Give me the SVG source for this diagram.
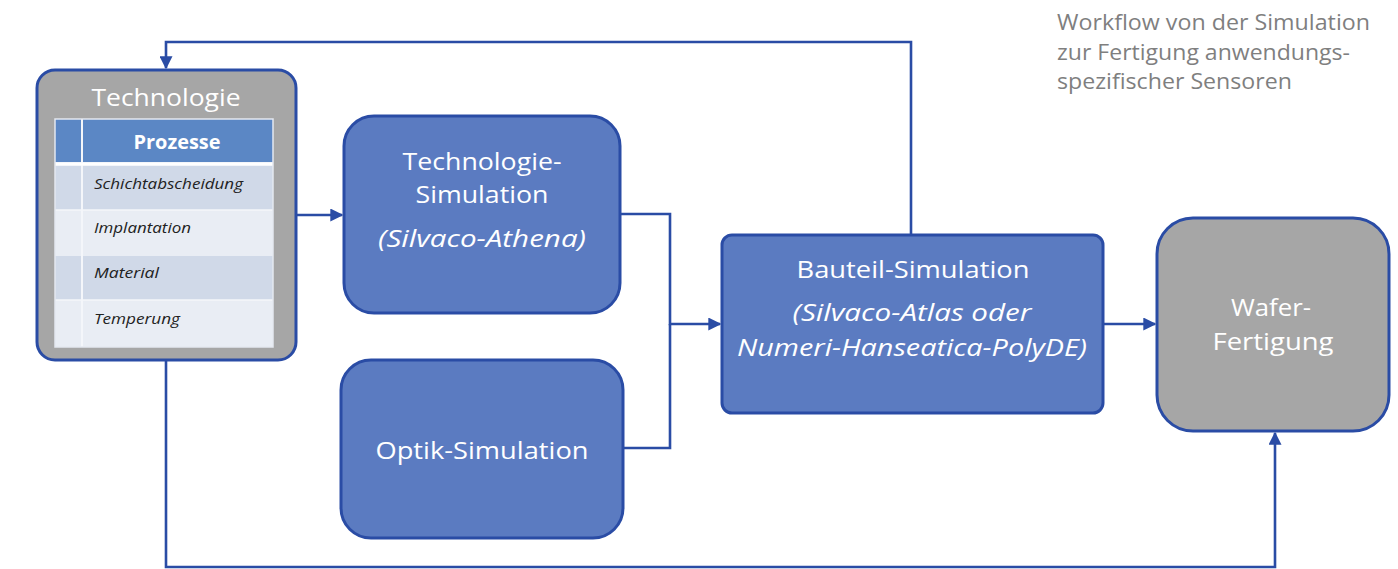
<svg xmlns="http://www.w3.org/2000/svg" width="1398" height="569" viewBox="0 0 1398 569">
  <defs>
    <marker id="arrow" viewBox="0 0 10 10" refX="9" refY="5" markerWidth="5" markerHeight="5" orient="auto" markerUnits="strokeWidth">
      <path d="M0,0 L10,5 L0,10 z" fill="#2a4ca5"/>
    </marker>
    <style>
      .conn { fill: none; stroke: #2a4ca5; stroke-width: 2.6; }
      .blue { fill: #5b7bc1; stroke: #2a4ca5; stroke-width: 3; }
      .gray { fill: #a6a6a6; stroke: #2a4ca5; stroke-width: 3; }
      .lbl { font-family: "Open Sans", "DejaVu Sans", sans-serif; fill: #ffffff; text-anchor: middle; font-size: 24px; }
      .it { font-style: italic; }
      .row { font-family: "Open Sans", "Liberation Sans", sans-serif; font-style: italic; font-size: 15px; fill: #222222; }
      .note { font-family: "Open Sans", "Liberation Sans", sans-serif; font-size: 22px; fill: #7f7f7f; }
    </style>
  </defs>
  <rect width="1398" height="569" fill="#ffffff"/>

  <!-- connectors -->
  <g id="connectors">
    <polyline class="conn" points="911,235 911,42 166,42 166,68" marker-end="url(#arrow)"/>
    <polyline class="conn" points="297,215 342,215" marker-end="url(#arrow)"/>
    <polyline class="conn" points="621,214 670,214 670,324 720,324" marker-end="url(#arrow)"/>
    <polyline class="conn" points="624,448 670,448 670,324"/>
    <polyline class="conn" points="1104,324 1155,324" marker-end="url(#arrow)"/>
    <polyline class="conn" points="166,361 166,567 1275,567 1275,433" marker-end="url(#arrow)"/>
  </g>

  <!-- Technologie with process table -->
  <g id="technologie">
    <rect class="gray" x="37" y="70" width="259" height="290" rx="18"/>
    <text class="lbl" x="166" y="106" font-size="26" fill="#f2f2f2" textLength="149" lengthAdjust="spacingAndGlyphs">Technologie</text>
    <rect x="55" y="119" width="218" height="228" fill="#e9edf4"/>
    <rect x="55" y="119" width="218" height="43" fill="#5b87c5"/>
    <rect x="55" y="166" width="218" height="44" fill="#d0d9e8"/>
    <rect x="55" y="256" width="218" height="44" fill="#d0d9e8"/>
    <line x1="82" y1="119" x2="82" y2="347" stroke="#f4f6fa" stroke-width="2"/>
    <line x1="55" y1="164" x2="273" y2="164" stroke="#ffffff" stroke-width="3"/>
    <line x1="55" y1="210" x2="273" y2="210" stroke="#f4f6fa" stroke-width="1.5"/>
    <line x1="55" y1="300" x2="273" y2="300" stroke="#f4f6fa" stroke-width="1.5"/>
    <rect x="55" y="119" width="218" height="228" fill="none" stroke="#e4e8f0" stroke-width="1.5"/>
    <text x="177" y="149" font-family="Open Sans, Liberation Sans, sans-serif" font-weight="bold" font-size="19" fill="#ffffff" text-anchor="middle" textLength="87" lengthAdjust="spacingAndGlyphs">Prozesse</text>
    <text class="row" x="94" y="189" textLength="149" lengthAdjust="spacingAndGlyphs">Schichtabscheidung</text>
    <text class="row" x="94" y="233" textLength="97" lengthAdjust="spacingAndGlyphs">Implantation</text>
    <text class="row" x="94" y="278" textLength="65" lengthAdjust="spacingAndGlyphs">Material</text>
    <text class="row" x="94" y="324" textLength="86" lengthAdjust="spacingAndGlyphs">Temperung</text>
  </g>

  <g id="technologie-simulation">
    <rect class="blue" x="344" y="116" width="276" height="197" rx="30"/>
    <text class="lbl" x="482" y="170" textLength="159" lengthAdjust="spacingAndGlyphs">Technologie-</text>
    <text class="lbl" x="482" y="203" textLength="133" lengthAdjust="spacingAndGlyphs">Simulation</text>
    <text class="lbl it" x="482" y="247" textLength="208" lengthAdjust="spacingAndGlyphs">(Silvaco-Athena)</text>
  </g>

  <g id="optik-simulation">
    <rect class="blue" x="341" y="360" width="282" height="178" rx="30"/>
    <text class="lbl" x="482" y="459" textLength="213" lengthAdjust="spacingAndGlyphs">Optik-Simulation</text>
  </g>

  <g id="bauteil-simulation">
    <rect class="blue" x="722" y="235" width="381" height="178" rx="10"/>
    <text class="lbl" x="913" y="278" textLength="233" lengthAdjust="spacingAndGlyphs">Bauteil-Simulation</text>
    <text class="lbl it" x="912" y="321" textLength="239" lengthAdjust="spacingAndGlyphs">(Silvaco-Atlas oder</text>
    <text class="lbl it" x="912" y="356" textLength="350" lengthAdjust="spacingAndGlyphs">Numeri-Hanseatica-PolyDE)</text>
  </g>

  <g id="wafer-fertigung">
    <rect class="gray" x="1157" y="218" width="232" height="213" rx="36"/>
    <text class="lbl" x="1271" y="316" font-size="26" fill="#f2f2f2" textLength="80" lengthAdjust="spacingAndGlyphs">Wafer-</text>
    <text class="lbl" x="1273" y="350" font-size="26" fill="#f2f2f2" textLength="121" lengthAdjust="spacingAndGlyphs">Fertigung</text>
  </g>

  <g id="caption">
    <text class="note" x="1057" y="30" textLength="313" lengthAdjust="spacingAndGlyphs">Workflow von der Simulation</text>
    <text class="note" x="1057" y="60" textLength="293" lengthAdjust="spacingAndGlyphs">zur Fertigung anwendungs-</text>
    <text class="note" x="1057" y="89" textLength="235" lengthAdjust="spacingAndGlyphs">spezifischer Sensoren</text>
  </g>
</svg>
